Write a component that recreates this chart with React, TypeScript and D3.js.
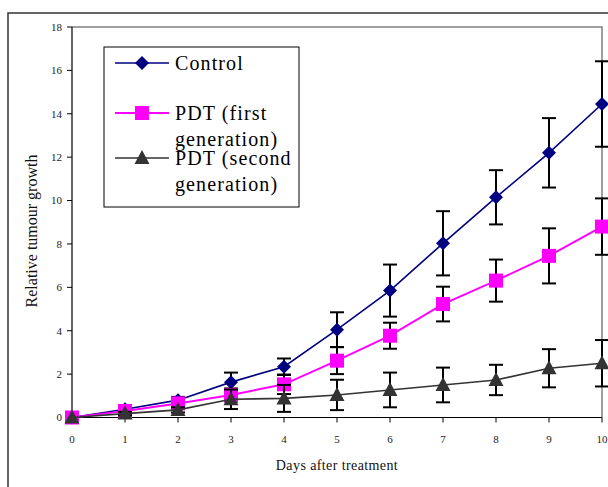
import React from "react";
import * as d3 from "d3";

const days = [0, 1, 2, 3, 4, 5, 6, 7, 8, 9, 10];

// mean relative growth per day
const control = [0, 0.38, 0.8, 1.63, 2.34, 4.05, 5.85, 8.03, 10.15, 12.2, 14.45];
const pdtFirst = [0, 0.3, 0.65, 1.04, 1.53, 2.62, 3.77, 5.23, 6.31, 7.45, 8.8];
const pdtSecond = [0, 0.18, 0.35, 0.84, 0.88, 1.04, 1.27, 1.5, 1.73, 2.27, 2.5];

// half width of the error bars
const controlErr = [0, 0.12, 0.15, 0.44, 0.38, 0.8, 1.2, 1.48, 1.25, 1.6, 1.97];
const pdtFirstErr = [0, 0.1, 0.15, 0.3, 0.45, 0.62, 0.6, 0.8, 0.97, 1.27, 1.3];
const pdtSecondErr = [0, 0.08, 0.12, 0.45, 0.62, 0.7, 0.8, 0.8, 0.7, 0.88, 1.07];

const yTicks = [0, 2, 4, 6, 8, 10, 12, 14, 16, 18];

type Series = {
  name: string[];
  values: number[];
  errors: number[];
  color: string;
  lineWidth: number;
  marker: "diamond" | "square" | "triangle";
};

const series: Series[] = [
  { name: ["Control"], values: control, errors: controlErr, color: "#000080", lineWidth: 1.6, marker: "diamond" },
  { name: ["PDT (first", "generation)"], values: pdtFirst, errors: pdtFirstErr, color: "#FF00FF", lineWidth: 2, marker: "square" },
  { name: ["PDT (second", "generation)"], values: pdtSecond, errors: pdtSecondErr, color: "#333333", lineWidth: 1.6, marker: "triangle" },
];

const serif = "Liberation Serif";

const Marker = ({ kind, x, y, color }: { kind: string; x: number; y: number; color: string }) => {
  if (kind === "diamond") {
    const r = 7;
    return <path d={`M${x},${y - r}L${x + r},${y}L${x},${y + r}L${x - r},${y}Z`} fill={color} />;
  }
  if (kind === "square") {
    return <rect x={x - 7} y={y - 7} width={14} height={14} fill={color} />;
  }
  return <path d={`M${x},${y - 8}L${x + 7.5},${y + 6}L${x - 7.5},${y + 6}Z`} fill={color} />;
};

const App = () => {
  const width = 608;
  const height = 487;
  const plot = { left: 72, right: 602, top: 27, bottom: 417.5 };

  const x = d3.scaleLinear().domain([0, 10]).range([plot.left, plot.right]);
  const y = d3.scaleLinear().domain([0, 18]).range([plot.bottom, plot.top]);

  const line = d3
    .line<number>()
    .x((_, i) => x(days[i]))
    .y((d) => y(d));

  const legendRows = [63, 113, 158];

  return (
    <svg
      width={width}
      height={height}
      style={{ position: "absolute", left: 0, top: 0, background: "#fff", fontFamily: serif }}
    >
      {/* outer chart frame, runs off the page */}
      <rect x={8} y={13} width={640} height={520} fill="none" stroke="#333" strokeWidth={1.5} />

      {/* plot area border */}
      <path
        d={`M${plot.left},${plot.top}H${plot.right}V${plot.bottom}`}
        fill="none"
        stroke="#808080"
        strokeWidth={1.5}
      />

      {/* y axis */}
      <line x1={plot.left} x2={plot.left} y1={plot.top} y2={plot.bottom} stroke="#000" strokeWidth={1.2} />
      {yTicks.map((t) => (
        <g key={t}>
          <line x1={plot.left - 5} x2={plot.left} y1={y(t)} y2={y(t)} stroke="#000" />
          <text x={plot.left - 10} y={y(t)} dy="0.35em" textAnchor="end" fontSize={11} fill="#222">
            {t}
          </text>
        </g>
      ))}

      {/* x axis */}
      <line x1={plot.left} x2={plot.right} y1={plot.bottom} y2={plot.bottom} stroke="#000" strokeWidth={1.2} />
      {days.map((d) => (
        <g key={d}>
          <line x1={x(d)} x2={x(d)} y1={plot.bottom} y2={plot.bottom + 5} stroke="#000" />
          <text x={x(d)} y={plot.bottom + 22} dy="0.35em" textAnchor="middle" fontSize={11} fill="#222">
            {d}
          </text>
        </g>
      ))}

      <text x={337} y={470} textAnchor="middle" fontSize={14} letterSpacing={0.4} fill="#111">
        Days after treatment
      </text>
      <text transform="translate(37,231) rotate(-90)" textAnchor="middle" fontSize={16} fill="#111">
        Relative tumour growth
      </text>

      {/* series */}
      {series.map((s) => (
        <g key={s.name[0]}>
          {s.values.map((v, i) =>
            s.errors[i] > 0 ? (
              <g key={i} stroke="#000" strokeWidth={2}>
                <line x1={x(days[i])} x2={x(days[i])} y1={y(v + s.errors[i])} y2={y(v - s.errors[i])} />
                <line x1={x(days[i]) - 7} x2={x(days[i]) + 7} y1={y(v + s.errors[i])} y2={y(v + s.errors[i])} />
                <line x1={x(days[i]) - 7} x2={x(days[i]) + 7} y1={y(v - s.errors[i])} y2={y(v - s.errors[i])} />
              </g>
            ) : null
          )}
          <path d={line(s.values)!} fill="none" stroke={s.color} strokeWidth={s.lineWidth} />
          {s.values.map((v, i) => (
            <Marker key={i} kind={s.marker} x={x(days[i])} y={y(v)} color={s.color} />
          ))}
        </g>
      ))}

      {/* legend */}
      <rect x={104} y={47} width={195} height={160} fill="#fff" stroke="#000" strokeWidth={1} />
      {series.map((s, i) => (
        <g key={s.name[0]}>
          <line x1={115} x2={169} y1={legendRows[i]} y2={legendRows[i]} stroke={s.color} strokeWidth={s.lineWidth} />
          <Marker kind={s.marker} x={142} y={legendRows[i]} color={s.color} />
          {s.name.map((n, j) => (
            <text
              key={n}
              x={175}
              y={legendRows[i] + 7 + j * 26}
              fontSize={20}
              fill="#000"
              style={{ fontFamily: "Liberation Serif", letterSpacing: "1.1px" }}
            >
              {n}
            </text>
          ))}
        </g>
      ))}
    </svg>
  );
};

export default App;
